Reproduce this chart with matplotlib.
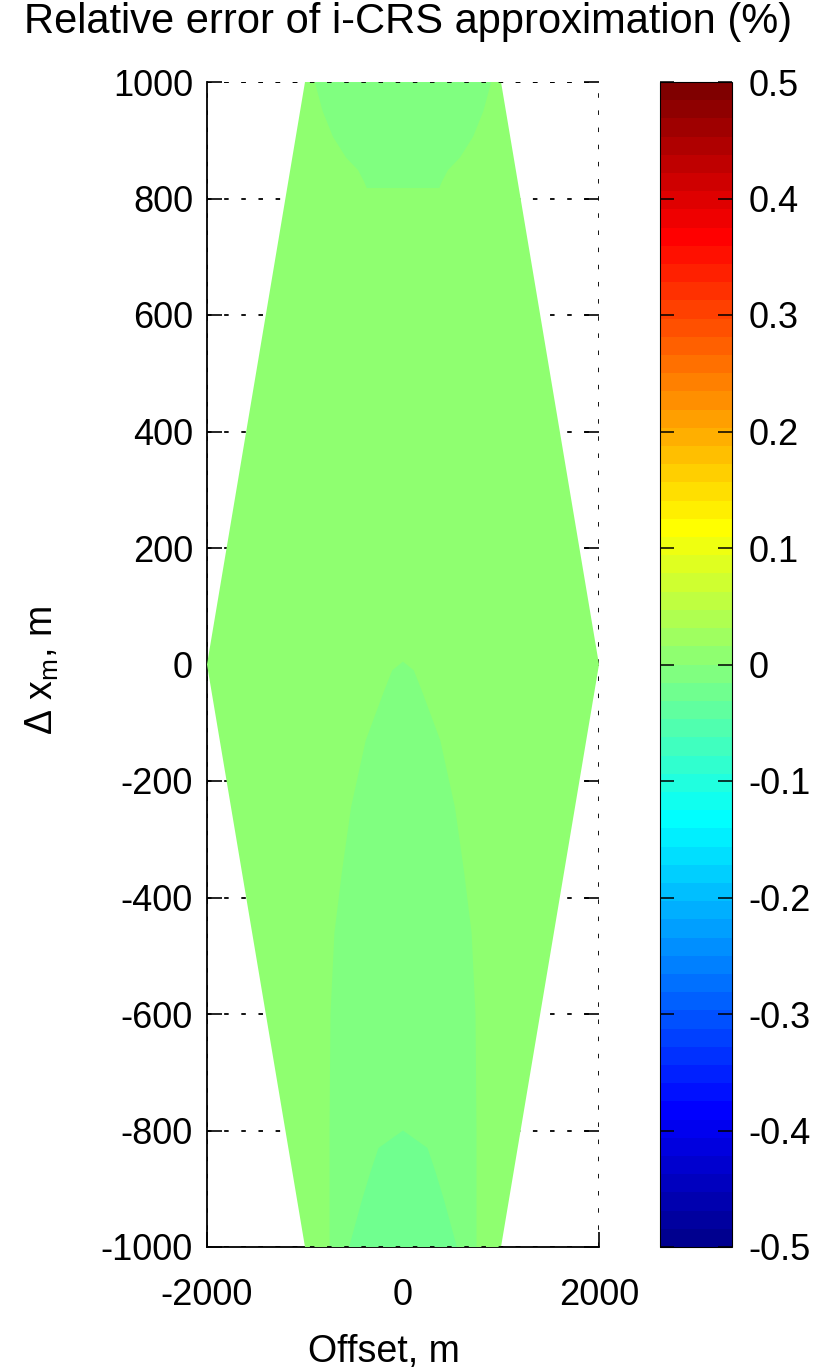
import numpy as np
import matplotlib
matplotlib.use("Agg")
import matplotlib.pyplot as plt
from matplotlib.colors import ListedColormap, Normalize
from matplotlib.patches import Polygon
from matplotlib.cm import ScalarMappable

# ---------------- data ----------------
# outline of the computed domain (offset, delta x_m)
hex_offset = [-1000, 1000, 2000, 1000, -1000, -2000]
hex_dx = [1000, 1000, 0, -1000, -1000, 0]
main_value = 0.008            # relative error (%) over most of the domain

# top cap region (slightly lower error)
top_cap_dx = [1000, 950, 906, 870, 849, 830, 818]
top_cap_halfwidth = [900, 820, 715, 580, 460, 400, 370]
top_cap_value = -0.008

# region growing from the origin downward
para_dx = [5, -10, -44, -130, -245, -358, -461, -600, -800, -1000]
para_halfwidth = [0, 110, 190, 380, 530, 625, 700, 740, 750, 750]
para_value = -0.008

# bottom cap region (lowest error)
bcap_dx = [-800, -830, -870, -920, -1000]
bcap_halfwidth = [0, 250, 330, 420, 550]
bcap_value = -0.023

x_ticks = [-2000, 0, 2000]
y_ticks = [-1000, -800, -600, -400, -200, 0, 200, 400, 600, 800, 1000]
c_ticks = [-0.5, -0.4, -0.3, -0.2, -0.1, 0, 0.1, 0.2, 0.3, 0.4, 0.5]
c_limits = (-0.5, 0.5)

title_text = "Relative error of i-CRS approximation (%)"
xlabel_text = "Offset, m"
ylabel_text = r"Δ x$_{\mathrm{m}}$, m"

# ---------------- style ----------------
plt.rcParams["font.family"] = ["Liberation Sans", "DejaVu Sans"]
plt.rcParams["mathtext.fontset"] = "custom"
plt.rcParams["mathtext.rm"] = "Liberation Sans"
plt.rcParams["mathtext.it"] = "Liberation Sans:italic"
plt.rcParams["axes.unicode_minus"] = False


def matlab_jet(n=64):
    m = int(np.ceil(n / 4))
    u = np.concatenate([np.arange(1, m + 1) / m, np.ones(m - 1), np.arange(m, 0, -1) / m])
    g = int(np.ceil(m / 2)) - (1 if n % 4 == 1 else 0) + np.arange(1, len(u) + 1)
    r = g + m
    b = g - m
    J = np.zeros((n, 3))
    for ch, idx in ((0, r), (1, g), (2, b)):
        ok = (idx >= 1) & (idx <= n)
        J[idx[ok] - 1, ch] = u[ok]
    return ListedColormap(J)


cmap = matlab_jet(64)
norm = Normalize(vmin=c_limits[0], vmax=c_limits[1])

W, H = 818, 1370
fig = plt.figure(figsize=(W / 100, H / 100), dpi=100)
ax = fig.add_axes([207 / W, 1 - 1247 / H, 392 / W, 1165 / H])
cax = fig.add_axes([660 / W, 1 - 1247 / H, 72 / W, 1165 / H])

dot = (0, (2.5, 7.0))

# grid lines (behind the data)
for yv in y_ticks:
    ax.axhline(yv, color="black", lw=1.3, ls=dot, zorder=0.5)
for xv in x_ticks:
    ax.axvline(xv, color="black", lw=1.3, ls=dot, zorder=0.5)

# domain
hexagon = Polygon(np.column_stack([hex_offset, hex_dx]), closed=True,
                  facecolor=cmap(norm(main_value)), edgecolor="none", zorder=3)
ax.add_patch(hexagon)


def region(dx, hw, value):
    dx = np.asarray(dx, float)
    hw = np.asarray(hw, float)
    xs = np.concatenate([-hw, hw[::-1]])
    ys = np.concatenate([dx, dx[::-1]])
    p = Polygon(np.column_stack([xs, ys]), closed=True,
                facecolor=cmap(norm(value)), edgecolor="none", zorder=3.1)
    ax.add_patch(p)
    p.set_clip_path(hexagon)


region(top_cap_dx, top_cap_halfwidth, top_cap_value)
region(para_dx, para_halfwidth, para_value)
region(bcap_dx, bcap_halfwidth, bcap_value)

# dotted frame lines drawn above the data
ax.axhline(y_ticks[-1], color="black", lw=1.3, ls=dot, zorder=4)
ax.axhline(y_ticks[0], color="black", lw=1.3, ls=dot, zorder=4)

ax.set_xlim(x_ticks[0], x_ticks[-1])
ax.set_ylim(y_ticks[0], y_ticks[-1])
ax.set_xticks(x_ticks)
ax.set_yticks(y_ticks)
ax.set_xticklabels([f"{v:g}" for v in x_ticks])
ax.set_yticklabels([f"{v:g}" for v in y_ticks])
ax.tick_params(axis="both", direction="in", length=11, width=1.2, labelsize=26,
               right=True, top=False, colors="black")
ax.tick_params(axis="y", pad=10)
ax.tick_params(axis="x", pad=22)
ax.spines["top"].set_visible(False)
ax.spines["right"].set_visible(False)
ax.spines["left"].set_linewidth(1.3)
ax.spines["bottom"].set_linewidth(1.3)
ax.spines["left"].set_zorder(2)
ax.spines["bottom"].set_zorder(2)

# colorbar
sm = ScalarMappable(norm=norm, cmap=cmap)
cb = fig.colorbar(sm, cax=cax)
cb.set_ticks(c_ticks)
cb.set_ticklabels([f"{v:g}" for v in c_ticks])
cb.outline.set_linewidth(0.8)
cax.tick_params(direction="in", length=10, width=1.1, labelsize=26, pad=12,
                left=True, right=True, labelleft=False, labelright=True, colors="black")
cax.minorticks_off()

# texts
fig.text(408 / W, 1 - 33 / H, title_text, ha="center", va="baseline", fontsize=30)
fig.text(384 / W, 1 - 1362 / H, xlabel_text, ha="center", va="baseline", fontsize=27)
fig.text(42 / W, 1 - 670 / H, ylabel_text, ha="center", va="center", rotation=90, fontsize=27)

fig.savefig("out.png", dpi=100, facecolor="white")
